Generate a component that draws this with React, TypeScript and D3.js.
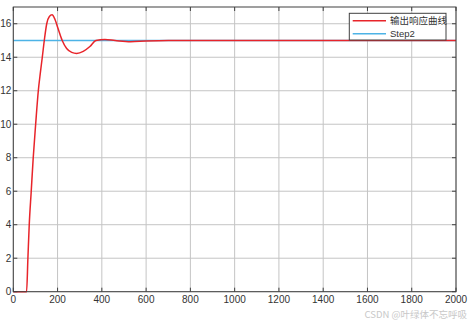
import React from "react";
import * as d3 from "d3";

const xTicks = [0, 200, 400, 600, 800, 1000, 1200, 1400, 1600, 1800, 2000];
const yTicks = [0, 2, 4, 6, 8, 10, 12, 14, 16];

const responseT = [0, 60, 66, 72, 81, 90, 101, 113, 122, 131, 140, 151, 163, 175, 188, 203, 221, 241, 264, 286, 316, 346, 373, 414, 460, 530, 600, 700, 2000];
const responseY = [0, 0, 2, 4, 6, 8, 10, 12, 13.05, 14, 15, 16.0, 16.43, 16.53, 16.27, 15.68, 15.0, 14.52, 14.29, 14.23, 14.35, 14.64, 15.0, 15.06, 15.0, 14.93, 14.97, 15.0, 15.0];

const stepT = [0, 2000];
const stepY = [15, 15];

const legendLabels = ["输出响应曲线", "Step2"];
const watermark = "CSDN @叶绿体不忘呼吸";

const W = 472, H = 324;
const left = 13.3, right = 456, top = 7, bottom = 291.7;

export default function App() {
  const x = d3.scaleLinear().domain([0, 2000]).range([left, right]);
  const y = d3.scaleLinear().domain([0, 17]).range([bottom, top]);
  const respLine = d3.line<number>().x((_, i) => x(responseT[i])).y((d) => y(d)).curve(d3.curveMonotoneX);
  const stepLine = d3.line<number>().x((_, i) => x(stepT[i])).y((d) => y(d));
  const font = "'Liberation Sans', Arial, sans-serif";
  const red = "#e8242a";
  const blue = "#4db3e6";
  return (
    <svg width={W} height={H} style={{ position: "absolute", left: 0, top: 0, background: "#fff" }} fontFamily={font}>
      <rect x={0} y={0} width={W} height={H} fill="#fff" />
      {xTicks.map((t) => (
        <line key={"gx" + t} x1={x(t)} x2={x(t)} y1={top} y2={bottom} stroke="#c4c4c4" strokeWidth={1} />
      ))}
      {yTicks.map((t) => (
        <line key={"gy" + t} x1={left} x2={right} y1={y(t)} y2={y(t)} stroke="#c4c4c4" strokeWidth={1} />
      ))}
      <path d={stepLine(stepY) || ""} fill="none" stroke={blue} strokeWidth={1.5} />
      <path d={respLine(responseY) || ""} fill="none" stroke={red} strokeWidth={1.5} />
      <rect x={left} y={top} width={right - left} height={bottom - top} fill="none" stroke="#404040" strokeWidth={1} />
      {xTicks.map((t) => (
        <g key={"tx" + t}>
          <line x1={x(t)} x2={x(t)} y1={bottom} y2={bottom - 4} stroke="#404040" />
          <line x1={x(t)} x2={x(t)} y1={top} y2={top + 4} stroke="#404040" />
          <text x={x(t)} y={bottom + 11.5} fontSize={10} textAnchor="middle" fill="#333">{t}</text>
        </g>
      ))}
      {yTicks.map((t) => (
        <g key={"ty" + t}>
          <line x1={left} x2={left + 4} y1={y(t)} y2={y(t)} stroke="#404040" />
          <line x1={right} x2={right - 4} y1={y(t)} y2={y(t)} stroke="#404040" />
          <text x={left - 2} y={y(t) + 3.5} fontSize={10} textAnchor="end" fill="#333">{t}</text>
        </g>
      ))}
      <g>
        <rect x={349.3} y={13.3} width={96.7} height={26.7} fill="#fff" stroke="#404040" strokeWidth={1} />
        {legendLabels.map((lab, i) => (
          <g key={lab}>
            <line x1={352.7} x2={386} y1={20.7 + i * 13} y2={20.7 + i * 13} stroke={i === 0 ? red : blue} strokeWidth={1.5} />
            <text x={390} y={24 + i * 13} fontSize={9.5} fill="#333" fontFamily={i === 0 ? "'Noto Sans CJK SC', sans-serif" : font}>{lab}</text>
          </g>
        ))}
      </g>
      <text x={467} y={318} fontSize={9.5} textAnchor="end" fill="#c8c8c8" fontFamily="'Noto Sans CJK SC', sans-serif">{watermark}</text>
    </svg>
  );
}
